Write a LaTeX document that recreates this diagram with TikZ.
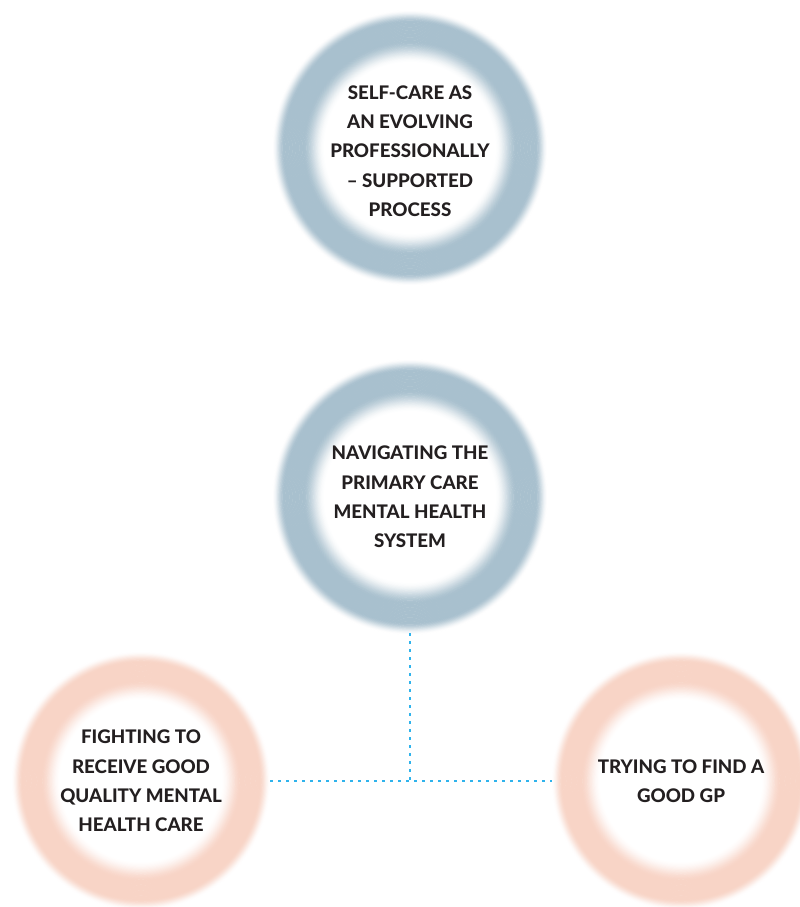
\documentclass[tikz,border=0pt]{standalone}
\usepackage{fontspec}
\setmainfont{Lato}[UprightFont=* Heavy]
\definecolor{ringblue}{HTML}{A8C0CE}
\definecolor{ringpink}{HTML}{F8D4C6}
\definecolor{dotcyan}{HTML}{2FB3EC}
\definecolor{txt}{HTML}{231F20}
\newcommand\fuzzyring[3]{%
  \foreach \k in {0,...,100}{%
    \pgfmathsetmacro\sfrac{0.60+0.43*\k/100}%
    \pgfmathsetmacro\rrad{#3*\sfrac}%
    \pgfmathsetmacro\aa{min(1,max(0,(\sfrac-0.63)/0.16))}%
    \pgfmathsetmacro\bb{min(1,max(0,(1.015-\sfrac)/0.09))}%
    \pgfmathsetmacro\inten{100*min(\aa*\aa*(3-2*\aa),\bb*\bb*(3-2*\bb))}%
    \draw[line width=1.0bp, draw=#2!\inten!white] (#1) circle[radius=\rrad bp];
  }%
}
\tikzset{
  ringnode/.style={circle, inner sep=0pt, minimum size=#1, align=center, text=txt,
    font=\fontsize{18.8}{29.5}\selectfont},
  dotline/.style={draw=dotcyan, line width=2.6bp, dash pattern=on 2.6bp off 5.4bp}
}
\begin{document}
\begin{tikzpicture}[x=1bp,y=-1bp]
\useasboundingbox (0,0) rectangle (800,907);
\fill[white] (0,0) rectangle (800,907);
\coordinate (ctop) at (410,148);
\coordinate (cmid) at (410,497);
\coordinate (cleft) at (141,781);
\coordinate (cright) at (681,781);
\fuzzyring{ctop}{ringblue}{136}
\fuzzyring{cmid}{ringblue}{136}
\fuzzyring{cleft}{ringpink}{128}
\fuzzyring{cright}{ringpink}{128}
\node[ringnode=272bp] (top) at (410,151) {SELF-CARE AS\\AN EVOLVING\\PROFESSIONALLY\\– SUPPORTED\\PROCESS};
\node[ringnode=272bp] (mid) at (cmid) {NAVIGATING THE\\PRIMARY CARE\\MENTAL HEALTH\\SYSTEM};
\node[ringnode=258bp] (left) at (cleft) {FIGHTING TO\\RECEIVE GOOD\\QUALITY MENTAL\\HEALTH CARE};
\node[ringnode=258bp] (right) at (cright) {TRYING TO FIND A\\GOOD GP};
\coordinate (junction) at (mid.south |- left.east);
\draw[dotline] (left.east) -- (right.west);
\draw[dotline] (mid.south) -- (junction);
\end{tikzpicture}
\end{document}
